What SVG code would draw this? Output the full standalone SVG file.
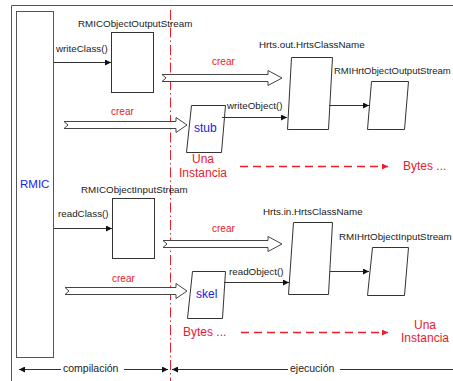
<svg xmlns="http://www.w3.org/2000/svg" width="453" height="381" viewBox="0 0 453 381">
  <defs>
    <marker id="arrow" viewBox="0 0 10 10" refX="10" refY="5" markerWidth="7" markerHeight="6" markerUnits="userSpaceOnUse" orient="auto-start-reverse">
      <path d="M0,0 L10,5 L0,10 z" fill="#111"/>
    </marker>
    <marker id="arrow-red" viewBox="0 0 10 10" refX="10" refY="5" markerWidth="8" markerHeight="6" markerUnits="userSpaceOnUse" orient="auto">
      <path d="M0,0 L10,5 L0,10 z" fill="#e8202a"/>
    </marker>
  </defs>
  <style>
    .frame { fill: none; stroke: #555; stroke-width: 1; }
    .box { fill: #fff; stroke: #333; stroke-width: 1; }
    .conn { fill: none; stroke: #333; stroke-width: 1; marker-end: url(#arrow); }
    .dim { fill: none; stroke: #333; stroke-width: 1; }
    .fat { fill: #fff; stroke: #444; stroke-width: 1; stroke-linejoin: miter; }
    .flow { fill: none; stroke: #e8202a; stroke-width: 1.3; stroke-dasharray: 8 5; marker-end: url(#arrow-red); }
    .phase { fill: none; stroke: #e8202a; stroke-width: 1; stroke-dasharray: 10 3 1.5 3; }
    .lbl { font-family: "Liberation Sans", Arial, sans-serif; font-size: 9.8px; fill: #222; }
    .red { font-family: "Liberation Sans", Arial, sans-serif; font-size: 10px; fill: #e8202a; }
    .big { font-family: "Liberation Sans", Arial, sans-serif; font-size: 12px; fill: #e8202a; }
    .obj { font-family: "Liberation Sans", Arial, sans-serif; font-size: 12px; fill: #2020e8; }
  </style>

  <rect width="453" height="381" fill="#fff"/>

  <!-- outer frame: top and left edges -->
  <path class="frame" d="M453,5.5 H11.5 V381"/>

  <!-- compile / run boundary -->
  <line class="phase" x1="170.5" y1="10" x2="170.5" y2="381"/>

  <g id="rmic">
    <rect class="box" x="16.5" y="11.5" width="37" height="346" style="stroke:#555"/>
    <text class="obj" x="20" y="188" style="font-size:11.5px">RMIC</text>
  </g>

  <g id="rmic-output-stream">
    <rect class="box" x="111.5" y="32.5" width="42" height="60"/>
    <text class="lbl" x="78" y="27">RMICObjectOutputStream</text>
  </g>

  <g id="hrts-out">
    <polygon class="box" points="291.5,57.5 332.5,57.5 328.5,129.5 287.5,129.5"/>
    <text class="lbl" x="259" y="48">Hrts.out.HrtsClassName</text>
  </g>

  <g id="rmi-hrt-output-stream">
    <polygon class="box" points="371.5,81.5 408.5,81.5 404.5,129.5 367.5,129.5"/>
    <text class="lbl" x="334" y="74" style="font-size:9.5px">RMIHrtObjectOutputStream</text>
  </g>

  <g id="stub">
    <polygon class="box" points="191.5,105.5 225.5,105.5 221.5,152.5 186.5,152.5"/>
    <text class="obj" x="194" y="132">stub</text>
  </g>

  <g id="rmic-input-stream">
    <rect class="box" x="112.5" y="198.5" width="42" height="60"/>
    <text class="lbl" x="81" y="193">RMICObjectInputStream</text>
  </g>

  <g id="hrts-in">
    <polygon class="box" points="293.5,222.5 332.5,222.5 328.5,294.5 288.5,294.5"/>
    <text class="lbl" x="263" y="215">Hrts.in.HrtsClassName</text>
  </g>

  <g id="rmi-hrt-input-stream">
    <polygon class="box" points="372.5,247.5 408.5,247.5 404.5,295.5 367.5,295.5"/>
    <text class="lbl" x="339" y="240">RMIHrtObjectInputStream</text>
  </g>

  <g id="skel">
    <polygon class="box" points="192.5,271.5 225.5,271.5 222.5,318.5 187.5,318.5"/>
    <text class="obj" x="196" y="298">skel</text>
  </g>

  <g id="connectors">
    <!-- method calls -->
    <line class="conn" x1="54" y1="62.5" x2="111" y2="62.5"/>
    <text class="lbl" x="56" y="52">writeClass()</text>
    <line class="conn" x1="54" y1="228.5" x2="112" y2="228.5"/>
    <text class="lbl" x="58" y="217">readClass()</text>
    <line class="conn" x1="222" y1="117.5" x2="287" y2="117.5"/>
    <text class="lbl" x="227" y="109">writeObject()</text>
    <line class="conn" x1="224" y1="282.5" x2="289" y2="282.5"/>
    <text class="lbl" x="229" y="275">readObject()</text>
    <line class="conn" x1="329" y1="105.5" x2="369" y2="105.5"/>
    <line class="conn" x1="330" y1="271.5" x2="369" y2="271.5"/>

    <!-- creation arrows -->
    <polygon class="fat" points="162,74.5 268,74.5 268,70.5 282,78 268,85.5 268,81.5 162,81.5 166,78"/>
    <text class="red" x="212" y="65">crear</text>
    <polygon class="fat" points="64,121.5 176,121.5 176,117.5 187,125 176,132.5 176,128.5 64,128.5 68,125"/>
    <text class="red" x="111" y="115">crear</text>
    <polygon class="fat" points="163,240.5 268,240.5 268,236.5 282,244 268,251.5 268,247.5 163,247.5 167,244"/>
    <text class="red" x="212" y="232">crear</text>
    <polygon class="fat" points="65,287.5 176,287.5 176,283.5 187,291 176,298.5 176,294.5 65,294.5 69,291"/>
    <text class="red" x="112" y="282">crear</text>

    <!-- data flow at run time -->
    <text class="big" x="203" y="163" text-anchor="middle">Una</text>
    <text class="big" x="203" y="177" text-anchor="middle">Instancia</text>
    <line class="flow" x1="240" y1="166.5" x2="388" y2="166.5"/>
    <text class="big" x="403" y="170">Bytes ...</text>

    <text class="big" x="183" y="336">Bytes ...</text>
    <line class="flow" x1="241" y1="332.5" x2="388" y2="332.5"/>
    <text class="big" x="425" y="329" text-anchor="middle">Una</text>
    <text class="big" x="425" y="342" text-anchor="middle">Instancia</text>

    <!-- phase spans -->
    <line class="dim" x1="19" y1="369.5" x2="61" y2="369.5" style="marker-start:url(#arrow)"/>
    <text class="lbl" x="63" y="372" style="font-size:10.5px">compilación</text>
    <line class="dim" x1="124" y1="369.5" x2="168" y2="369.5" style="marker-end:url(#arrow)"/>
    <line class="dim" x1="172" y1="369.5" x2="288" y2="369.5" style="marker-start:url(#arrow)"/>
    <text class="lbl" x="290" y="372" style="font-size:10.5px">ejecución</text>
    <line class="dim" x1="340" y1="369.5" x2="453" y2="369.5"/>
  </g>
</svg>
